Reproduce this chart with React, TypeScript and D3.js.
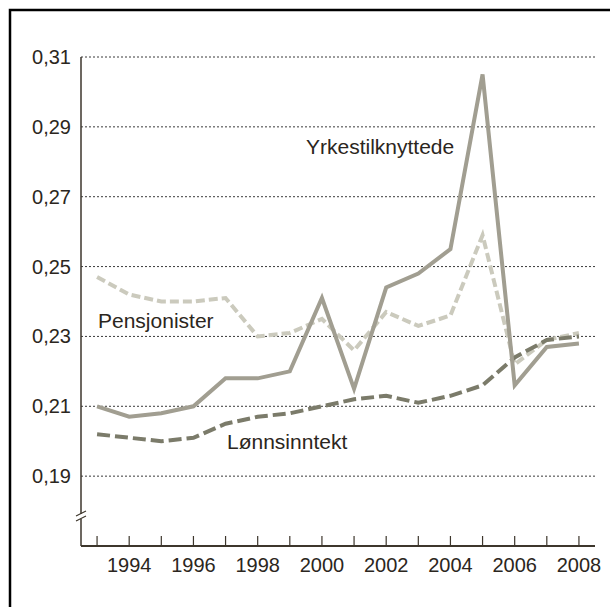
import React, { useEffect, useRef } from 'react';
import * as d3 from 'd3';

// Years on the x axis
const years = [1993, 1994, 1995, 1996, 1997, 1998, 1999, 2000, 2001, 2002, 2003, 2004, 2005, 2006, 2007, 2008];

// Series values
const yrkestilknyttede = [0.210, 0.207, 0.208, 0.210, 0.218, 0.218, 0.220, 0.241, 0.215, 0.244, 0.248, 0.255, 0.305, 0.216, 0.227, 0.228];
const pensjonister = [0.247, 0.242, 0.240, 0.240, 0.241, 0.230, 0.231, 0.235, 0.226, 0.237, 0.233, 0.236, 0.259, 0.222, 0.229, 0.231];
const lonnsinntekt = [0.202, 0.201, 0.200, 0.201, 0.205, 0.207, 0.208, 0.210, 0.212, 0.213, 0.211, 0.213, 0.216, 0.224, 0.229, 0.230];

const yTicks = [0.19, 0.21, 0.23, 0.25, 0.27, 0.29, 0.31];
const xLabelYears = [1994, 1996, 1998, 2000, 2002, 2004, 2006, 2008];

const FONT = 'Arial, "Liberation Sans", sans-serif';
const TEXT = '#2b2620';
const AXIS = '#3d362c';

function App() {
  const svgRef = useRef<SVGSVGElement>(null);

  useEffect(() => {
    const svg = d3.select(svgRef.current);
    svg.selectAll('*').remove();

    const x = d3.scaleLinear().domain([1992.5, 2008.5]).range([81, 595]);
    const y = d3.scaleLinear().domain([0.17, 0.31]).range([546, 57]);

    // outer frame (runs off the right and bottom edge)
    svg.append('rect')
      .attr('x', 10).attr('y', 10)
      .attr('width', 640).attr('height', 640)
      .style('fill', 'none')
      .style('stroke', '#000')
      .style('stroke-width', 2.5);

    // dotted grid
    svg.selectAll('.grid')
      .data(yTicks)
      .enter()
      .append('line')
      .attr('class', 'grid')
      .attr('x1', 81).attr('x2', 595)
      .attr('y1', d => y(d)).attr('y2', d => y(d))
      .style('stroke', '#3a3a3a')
      .style('stroke-width', 1)
      .style('stroke-dasharray', '2,2');

    // y labels
    svg.selectAll('.ylab')
      .data(yTicks)
      .enter()
      .append('text')
      .attr('x', 71)
      .attr('y', d => y(d))
      .attr('dy', '0.35em')
      .attr('text-anchor', 'end')
      .style('font-family', FONT)
      .style('font-size', '20px')
      .style('fill', TEXT)
      .text(d => d3.format('.2f')(d).replace('.', ','));

    // y axis with break
    svg.append('line')
      .attr('x1', 81).attr('x2', 81)
      .attr('y1', y(0.31)).attr('y2', y(0.17))
      .style('stroke', AXIS).style('stroke-width', 1.5);
    svg.append('rect')
      .attr('x', 78).attr('y', 514).attr('width', 6).attr('height', 5)
      .style('fill', '#fff');
    [514, 519].forEach(yy => {
      svg.append('line')
        .attr('x1', 76).attr('x2', 86)
        .attr('y1', yy + 2).attr('y2', yy - 3)
        .style('stroke', AXIS).style('stroke-width', 1.2);
    });

    // x axis
    svg.append('line')
      .attr('x1', 81).attr('x2', 595)
      .attr('y1', y(0.17)).attr('y2', y(0.17))
      .style('stroke', AXIS).style('stroke-width', 1.8);
    svg.selectAll('.xtick')
      .data(years)
      .enter()
      .append('line')
      .attr('x1', d => x(d)).attr('x2', d => x(d))
      .attr('y1', y(0.17)).attr('y2', y(0.17) - 10)
      .style('stroke', AXIS).style('stroke-width', 1.2);
    svg.selectAll('.xlab')
      .data(xLabelYears)
      .enter()
      .append('text')
      .attr('x', d => x(d))
      .attr('y', 572)
      .attr('text-anchor', 'middle')
      .style('font-family', FONT)
      .style('font-size', '20px')
      .style('fill', TEXT)
      .text(d => d);

    const line = d3.line<number>()
      .x((_, i) => x(years[i]))
      .y(d => y(d));

    svg.append('path')
      .datum(pensjonister)
      .attr('d', line)
      .style('fill', 'none')
      .style('stroke', '#cbcabd')
      .style('stroke-width', 4)
      .style('stroke-dasharray', '9,4');

    svg.append('path')
      .datum(lonnsinntekt)
      .attr('d', line)
      .style('fill', 'none')
      .style('stroke', '#7b7b6a')
      .style('stroke-width', 4)
      .style('stroke-dasharray', '13,5');

    svg.append('path')
      .datum(yrkestilknyttede)
      .attr('d', line)
      .style('fill', 'none')
      .style('stroke', '#a19e91')
      .style('stroke-width', 4)
      .style('stroke-linejoin', 'miter');

    // series labels
    const labels = [
      { text: 'Yrkestilknyttede', x: 306, y: 154 },
      { text: 'Pensjonister', x: 98, y: 328 },
      { text: 'Lønnsinntekt', x: 227, y: 449 },
    ];
    svg.selectAll('.slab')
      .data(labels)
      .enter()
      .append('text')
      .attr('x', d => d.x)
      .attr('y', d => d.y)
      .style('font-family', FONT)
      .style('font-size', '21px')
      .style('fill', TEXT)
      .text(d => d.text);
  }, []);

  return (
    <div style={{ position: 'absolute', left: 0, top: 0, width: 610, height: 607, background: '#fff', overflow: 'hidden' }}>
      <svg ref={svgRef} width={610} height={607} />
    </div>
  );
}

export default App;
